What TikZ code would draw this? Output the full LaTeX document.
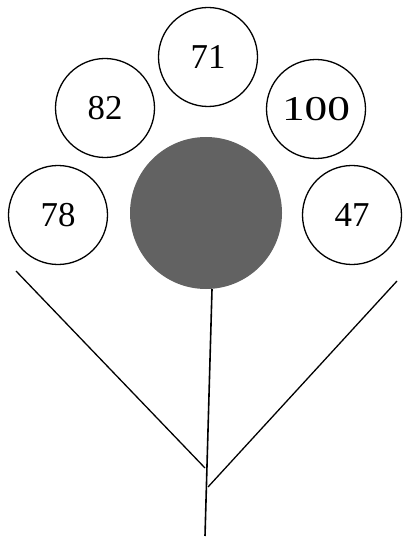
\documentclass[tikz,border=0pt]{standalone}
\usepackage{fontspec}
\setmainfont{Liberation Serif}
\definecolor{discgray}{HTML}{626262}

\begin{document}
\begin{tikzpicture}[x=1bp,y=-1bp,
  petal/.style={draw,circle,line width=1.3pt,minimum size=99bp,inner sep=0pt,font=\fontsize{35}{35}\selectfont}]
  \useasboundingbox (0,0) rectangle (404,541);
  \node[petal] (p71) at (208,57) {71};
  \node[petal] (p82) at (105,108) {82};
  \node[petal] (p100) at (316,109) {\scalebox{1.3}[1]{100}};
  \node[petal] (p78) at (58,215) {78};
  \node[petal] (p47) at (352,215) {47};
  \node[circle,fill=discgray,minimum size=152bp,inner sep=0pt] (core) at (206,213) {};
  \coordinate (base) at (205,536);
  \coordinate (lefttip) at (16,271);
  \coordinate (leftjoin) at (205,468);
  \coordinate (righttip) at (397,281);
  \coordinate (rightjoin) at (208,487);
  \draw[line width=1.6pt] ([xshift=6bp]core.south) -- (base);
  \draw[line width=1.3pt] (lefttip) -- (leftjoin);
  \draw[line width=1.3pt] (righttip) -- (rightjoin);
\end{tikzpicture}
\end{document}
